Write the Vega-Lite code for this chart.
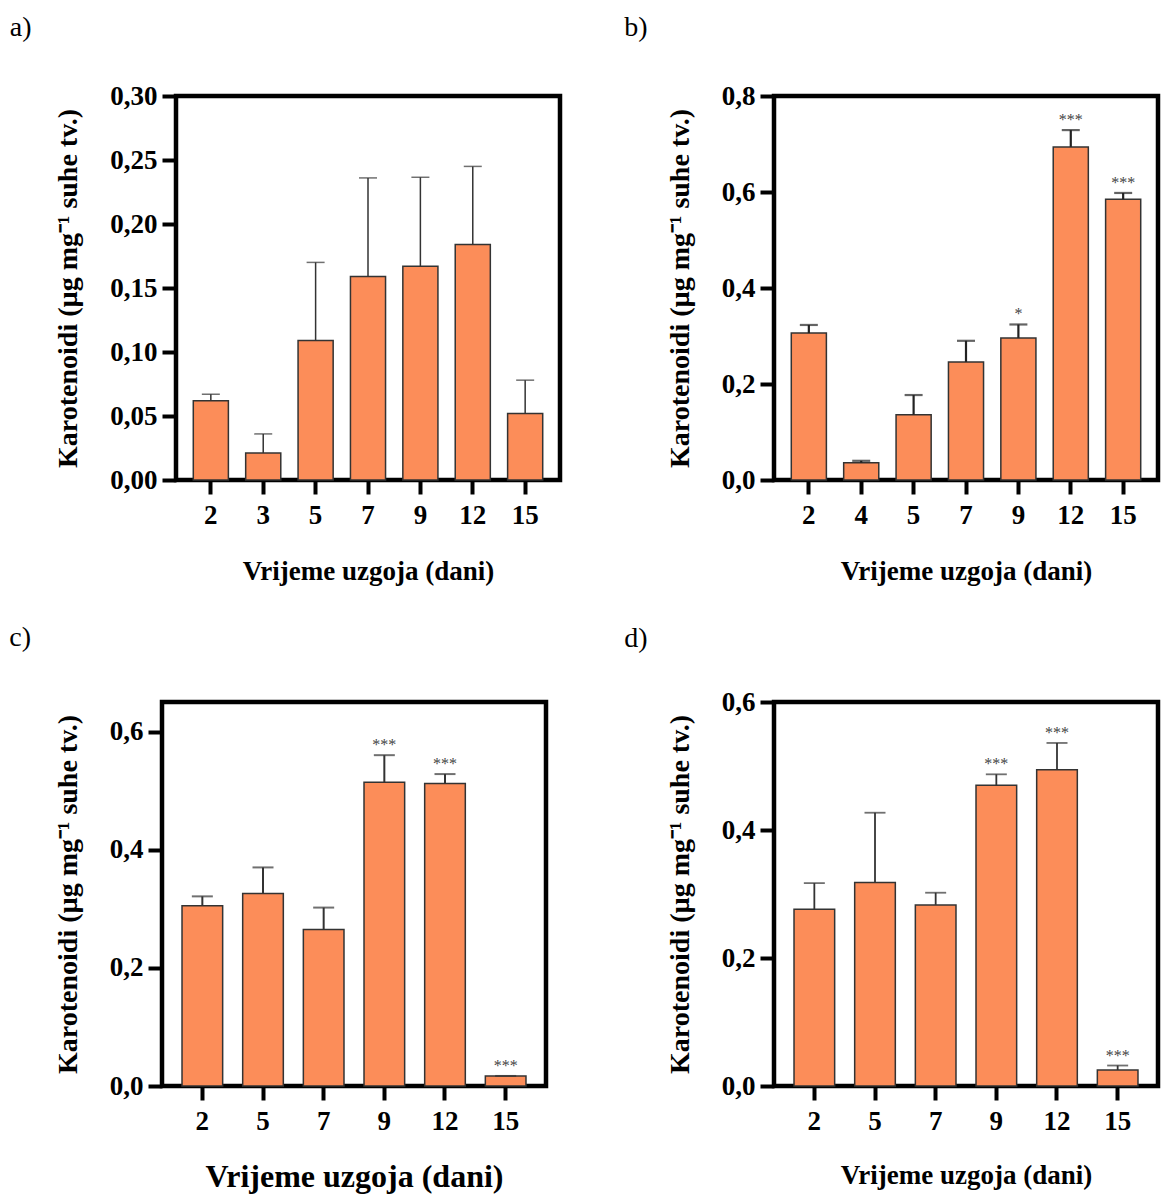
{
  "$schema": "https://vega.github.io/schema/vega-lite/v6.json",
  "padding": {"left": 6, "top": 11, "right": 0, "bottom": 0},
  "background": "white",
  "datasets": {
    "a": [
      {"day": 2, "value": 0.062, "err": 0.067, "sig": ""},
      {"day": 3, "value": 0.021, "err": 0.036, "sig": ""},
      {"day": 5, "value": 0.109, "err": 0.170, "sig": ""},
      {"day": 7, "value": 0.159, "err": 0.236, "sig": ""},
      {"day": 9, "value": 0.167, "err": 0.2365, "sig": ""},
      {"day": 12, "value": 0.184, "err": 0.245, "sig": ""},
      {"day": 15, "value": 0.052, "err": 0.078, "sig": ""}
    ],
    "b": [
      {"day": 2, "value": 0.306, "err": 0.323, "sig": ""},
      {"day": 4, "value": 0.036, "err": 0.040, "sig": ""},
      {"day": 5, "value": 0.136, "err": 0.177, "sig": ""},
      {"day": 7, "value": 0.246, "err": 0.290, "sig": ""},
      {"day": 9, "value": 0.296, "err": 0.324, "sig": "*"},
      {"day": 12, "value": 0.694, "err": 0.729, "sig": "***"},
      {"day": 15, "value": 0.585, "err": 0.598, "sig": "***"}
    ],
    "c": [
      {"day": 2, "value": 0.305, "err": 0.321, "sig": ""},
      {"day": 5, "value": 0.326, "err": 0.370, "sig": ""},
      {"day": 7, "value": 0.265, "err": 0.302, "sig": ""},
      {"day": 9, "value": 0.514, "err": 0.560, "sig": "***"},
      {"day": 12, "value": 0.512, "err": 0.528, "sig": "***"},
      {"day": 15, "value": 0.017, "err": 0.017, "sig": "***"}
    ],
    "d": [
      {"day": 2, "value": 0.276, "err": 0.317, "sig": ""},
      {"day": 5, "value": 0.318, "err": 0.427, "sig": ""},
      {"day": 7, "value": 0.283, "err": 0.302, "sig": ""},
      {"day": 9, "value": 0.470, "err": 0.487, "sig": "***"},
      {"day": 12, "value": 0.494, "err": 0.536, "sig": "***"},
      {"day": 15, "value": 0.025, "err": 0.032, "sig": "***"}
    ],
    "none": []
  },
  "spacing": 34,
  "vconcat": [
    {
      "spacing": 0,
      "hconcat": [
        {"data": {"name": "none"}, "mark": {"type": "point", "opacity": 0}, "width": 1, "height": 1, "view": {"stroke": null}},
        {
          "spacing": 59,
          "hconcat": [
            {
              "title": {"text": "a)", "dx": -45, "offset": 40},
              "width": 384, "height": 384,
              "data": {"name": "a"},
              "encoding": {
                "x": {"field": "day", "type": "ordinal", "scale": {"paddingInner": 0.33, "paddingOuter": 0.33},
                      "axis": {"title": "Vrijeme uzgoja (dani)", "labelAngle": 0}}
              },
              "layer": [
                {"mark": {"type": "bar", "fill": "#FC8D59", "stroke": "#333333", "strokeWidth": 1.5},
                 "encoding": {"y": {"field": "value", "type": "quantitative", "title": "Karotenoidi (µg mg⁻¹ suhe tv.)",
                                     "scale": {"domain": [0, 0.3], "nice": false, "zero": true},
                                     "axis": {"values": [0, 0.05, 0.1, 0.15, 0.2, 0.25, 0.3], "labelExpr": "replace(format(datum.value, '.2f'), '.', ',')"}}}},
                {"mark": {"type": "rule", "color": "#333333", "strokeWidth": 1.5},
                 "encoding": {"y": {"field": "value", "type": "quantitative", "title": "Karotenoidi (µg mg⁻¹ suhe tv.)"}, "y2": {"field": "err"}}},
                {"mark": {"type": "tick", "color": "#333333", "thickness": 1.5, "size": 18},
                 "encoding": {"y": {"field": "err", "type": "quantitative", "title": "Karotenoidi (µg mg⁻¹ suhe tv.)"}}}
              ]
            },
            {
              "title": {"text": "b)", "dx": -42, "offset": 40},
              "width": 384, "height": 384,
              "data": {"name": "b"},
              "encoding": {
                "x": {"field": "day", "type": "ordinal", "scale": {"paddingInner": 0.33, "paddingOuter": 0.33},
                      "axis": {"title": "Vrijeme uzgoja (dani)", "labelAngle": 0}}
              },
              "layer": [
                {"mark": {"type": "bar", "fill": "#FC8D59", "stroke": "#333333", "strokeWidth": 1.5},
                 "encoding": {"y": {"field": "value", "type": "quantitative", "title": "Karotenoidi (µg mg⁻¹ suhe tv.)",
                                     "scale": {"domain": [0, 0.8], "nice": false, "zero": true},
                                     "axis": {"values": [0, 0.2, 0.4, 0.6, 0.8], "labelExpr": "replace(format(datum.value, '.1f'), '.', ',')"}}}},
                {"mark": {"type": "rule", "color": "#222222", "strokeWidth": 2.2},
                 "encoding": {"y": {"field": "value", "type": "quantitative", "title": "Karotenoidi (µg mg⁻¹ suhe tv.)"}, "y2": {"field": "err"}}},
                {"mark": {"type": "tick", "color": "#222222", "thickness": 2.2, "size": 18},
                 "encoding": {"y": {"field": "err", "type": "quantitative", "title": "Karotenoidi (µg mg⁻¹ suhe tv.)"}}},
                {"mark": {"type": "text", "font": "Liberation Serif", "fontSize": 16, "color": "#444444", "baseline": "bottom", "dy": -2},
                 "encoding": {"y": {"field": "err", "type": "quantitative", "title": "Karotenoidi (µg mg⁻¹ suhe tv.)"}, "text": {"field": "sig"}}}
              ]
            }
          ]
        }
      ]
    },
    {
      "spacing": 0,
      "hconcat": [
        {"data": {"name": "none"}, "mark": {"type": "point", "opacity": 0}, "width": 1, "height": 1, "view": {"stroke": null}},
        {
          "spacing": 73,
          "hconcat": [
            {
              "title": {"text": "c)", "dx": -45, "offset": 50},
              "width": 384, "height": 384,
              "data": {"name": "c"},
              "encoding": {
                "x": {"field": "day", "type": "ordinal", "scale": {"paddingInner": 0.33, "paddingOuter": 0.33},
                      "axis": {"title": "Vrijeme uzgoja (dani)", "labelAngle": 0, "titleFontSize": 32, "titlePadding": 27}}
              },
              "layer": [
                {"mark": {"type": "bar", "fill": "#FC8D59", "stroke": "#333333", "strokeWidth": 1.5},
                 "encoding": {"y": {"field": "value", "type": "quantitative", "title": "Karotenoidi (µg mg⁻¹ suhe tv.)",
                                     "scale": {"domain": [0, 0.65], "nice": false, "zero": true},
                                     "axis": {"values": [0, 0.2, 0.4, 0.6], "labelExpr": "replace(format(datum.value, '.1f'), '.', ',')"}}}},
                {"mark": {"type": "rule", "color": "#333333", "strokeWidth": 2},
                 "encoding": {"y": {"field": "value", "type": "quantitative", "title": "Karotenoidi (µg mg⁻¹ suhe tv.)"}, "y2": {"field": "err"}}},
                {"mark": {"type": "tick", "color": "#333333", "thickness": 2, "size": 21},
                 "encoding": {"y": {"field": "err", "type": "quantitative", "title": "Karotenoidi (µg mg⁻¹ suhe tv.)"}}},
                {"mark": {"type": "text", "font": "Liberation Serif", "fontSize": 16, "color": "#444444", "baseline": "bottom", "dy": -2},
                 "encoding": {"y": {"field": "err", "type": "quantitative", "title": "Karotenoidi (µg mg⁻¹ suhe tv.)"}, "text": {"field": "sig"}}}
              ]
            },
            {
              "title": {"text": "d)", "dx": -42, "offset": 35},
              "width": 384, "height": 384,
              "data": {"name": "d"},
              "encoding": {
                "x": {"field": "day", "type": "ordinal", "scale": {"paddingInner": 0.33, "paddingOuter": 0.33},
                      "axis": {"title": "Vrijeme uzgoja (dani)", "labelAngle": 0, "titlePadding": 28}}
              },
              "layer": [
                {"mark": {"type": "bar", "fill": "#FC8D59", "stroke": "#333333", "strokeWidth": 1.5},
                 "encoding": {"y": {"field": "value", "type": "quantitative", "title": "Karotenoidi (µg mg⁻¹ suhe tv.)",
                                     "scale": {"domain": [0, 0.6], "nice": false, "zero": true},
                                     "axis": {"values": [0, 0.2, 0.4, 0.6], "labelExpr": "replace(format(datum.value, '.1f'), '.', ',')"}}}},
                {"mark": {"type": "rule", "color": "#333333", "strokeWidth": 1.8},
                 "encoding": {"y": {"field": "value", "type": "quantitative", "title": "Karotenoidi (µg mg⁻¹ suhe tv.)"}, "y2": {"field": "err"}}},
                {"mark": {"type": "tick", "color": "#333333", "thickness": 1.8, "size": 21},
                 "encoding": {"y": {"field": "err", "type": "quantitative", "title": "Karotenoidi (µg mg⁻¹ suhe tv.)"}}},
                {"mark": {"type": "text", "font": "Liberation Serif", "fontSize": 16, "color": "#444444", "baseline": "bottom", "dy": -2},
                 "encoding": {"y": {"field": "err", "type": "quantitative", "title": "Karotenoidi (µg mg⁻¹ suhe tv.)"}, "text": {"field": "sig"}}}
              ]
            }
          ]
        }
      ]
    }
  ],
  "config": {
    "font": "Liberation Serif",
    "view": {"stroke": "black", "strokeWidth": 4.5},
    "title": {"font": "Liberation Serif", "fontSize": 28, "fontWeight": "normal", "color": "black", "anchor": "start", "frame": "bounds"},
    "axis": {
      "domain": false, "grid": false,
      "tickColor": "black", "tickWidth": 4, "tickSize": 14,
      "labelFont": "Liberation Serif", "labelFontSize": 27, "labelFontWeight": "bold", "labelColor": "black", "labelPadding": 5,
      "titleFont": "Liberation Serif", "titleFontSize": 27, "titleFontWeight": "bold", "titleColor": "black"
    },
    "axisX": {"labelPadding": 8, "titlePadding": 30},
    "axisY": {"titlePadding": 27, "titleFontSize": 28}
  }
}
